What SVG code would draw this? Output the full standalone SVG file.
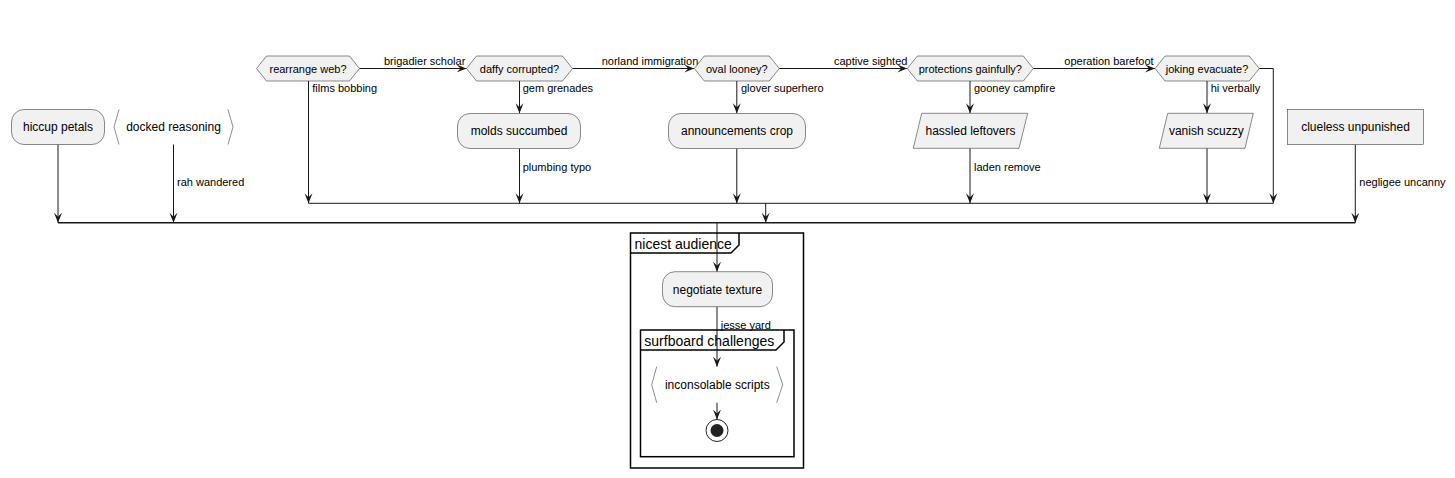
<svg xmlns="http://www.w3.org/2000/svg" width="1455" height="478" viewBox="0 0 1455 478">
<style>
.bg{fill:#FFFFFF}
.n{fill:#F1F1F1;stroke:#181818;stroke-width:0.5}
.br{fill:none;stroke:#181818;stroke-width:0.5}
.t{font-family:"Liberation Sans",Arial,sans-serif;font-size:12px;fill:#000}
.th{font-family:"Liberation Sans",Arial,sans-serif;font-size:11px;fill:#000}
.tl{font-family:"Liberation Sans",Arial,sans-serif;font-size:11px;fill:#000}
.tf{font-family:"Liberation Sans",Arial,sans-serif;font-size:14px;fill:#000}
.c{fill:none;stroke:#181818;stroke-width:1}
.a{marker-end:url(#arr)}
.bar{fill:none;stroke:#181818;stroke-width:1.5}
.fr{fill:none;stroke:#000;stroke-width:1.5}
</style>
<defs>
<marker id="arr" viewBox="0 0 10 10" refX="10" refY="5" markerWidth="10" markerHeight="10" markerUnits="userSpaceOnUse" orient="auto">
<path d="M0,1 L10,5 L0,9 L4,5 Z" fill="#181818"/>
</marker>
</defs>
<rect class="bg" x="0" y="0" width="1455" height="478"/>

<g id="connectors">
<path class="c a" d="M58,144.5 V222.7"/>
<path class="c a" d="M173.5,144.5 V222.7"/>
<path class="c a" d="M359.5,68.5 H466.5"/>
<path class="c a" d="M572.5,68.5 H694.3"/>
<path class="c a" d="M779.3,68.5 H907.3"/>
<path class="c a" d="M1033.3,68.5 H1155"/>
<path class="c a" d="M308.5,81 V203.3"/>
<path class="c a" d="M519.5,81 V113.3"/>
<path class="c a" d="M519.5,148.5 V203.3"/>
<path class="c a" d="M736.8,81 V113.3"/>
<path class="c a" d="M736.8,148.5 V203.3"/>
<path class="c a" d="M970,81 V113.3"/>
<path class="c a" d="M970,148.3 V203.3"/>
<path class="c a" d="M1207,81 V113.3"/>
<path class="c a" d="M1207,148.3 V203.3"/>
<path class="c a" d="M1259.3,68.5 H1273.3 V203.3"/>
<path class="c" d="M308.5,203.3 H1273.3"/>
<path class="c a" d="M765.7,203.3 V222.7"/>
<path class="c a" d="M1355.3,144.5 V222.7"/>
<path class="bar" d="M58,222.7 H1355.3"/>
<path class="c a" d="M717,222.7 V271.7"/>
<path class="c a" d="M717,306.7 V366.7"/>
<path class="c a" d="M717,402.7 V419.5"/>
<text class="tl" x="384" y="65">brigadier scholar</text>
<text class="tl" x="601.7" y="65">norland immigration</text>
<text class="tl" x="834" y="65">captive sighted</text>
<text class="tl" x="1064.3" y="65">operation barefoot</text>
<text class="tl" x="312.3" y="92">films bobbing</text>
<text class="tl" x="522.7" y="92">gem grenades</text>
<text class="tl" x="741" y="92">glover superhero</text>
<text class="tl" x="974" y="92">gooney campfire</text>
<text class="tl" x="1210.7" y="92">hi verbally</text>
<text class="tl" x="522.7" y="171">plumbing typo</text>
<text class="tl" x="974" y="171">laden remove</text>
<text class="tl" x="177" y="186">rah wandered</text>
<text class="tl" x="1359.3" y="186">negligee uncanny</text>
<text class="tl" x="720.7" y="328.5">jesse yard</text>
</g>

<g id="hiccup_petals">
<rect class="n" x="11.5" y="109.5" width="93" height="35" rx="12.5"/>
<text class="t" x="58" y="131" text-anchor="middle">hiccup petals</text>
</g>
<g id="docked_reasoning">
<path class="br" d="M119,109.5 L114,127 L119,144.5"/>
<path class="br" d="M228,109.5 L233,127 L228,144.5"/>
<text class="t" x="173.5" y="131" text-anchor="middle">docked reasoning</text>
</g>
<g id="rearrange_web">
<polygon class="n" points="256.5,68.5 266.5,56 349.5,56 359.5,68.5 349.5,81 266.5,81"/>
<text class="th" x="308" y="72.5" text-anchor="middle">rearrange web?</text>
</g>
<g id="daffy_corrupted">
<polygon class="n" points="466.5,68.5 476.5,56 562.5,56 572.5,68.5 562.5,81 476.5,81"/>
<text class="th" x="519.5" y="72.5" text-anchor="middle">daffy corrupted?</text>
</g>
<g id="molds_succumbed">
<rect class="n" x="457.5" y="113.5" width="123" height="35" rx="12.5"/>
<text class="t" x="519" y="135" text-anchor="middle">molds succumbed</text>
</g>
<g id="oval_looney">
<polygon class="n" points="694.3,68.5 704.3,56 769.3,56 779.3,68.5 769.3,81 704.3,81"/>
<text class="th" x="736.8" y="72.5" text-anchor="middle">oval looney?</text>
</g>
<g id="announcements_crop">
<rect class="n" x="668.5" y="113.5" width="137" height="35" rx="12.5"/>
<text class="t" x="737" y="135" text-anchor="middle">announcements crop</text>
</g>
<g id="protections_gainfully">
<polygon class="n" points="907.3,68.5 917.3,56 1023.3,56 1033.3,68.5 1023.3,81 917.3,81"/>
<text class="th" x="970.3" y="72.5" text-anchor="middle">protections gainfully?</text>
</g>
<g id="hassled_leftovers">
<polygon class="n" points="921.7,113.3 1027.7,113.3 1019,148.3 913.3,148.3"/>
<text class="t" x="970.5" y="135" text-anchor="middle">hassled leftovers</text>
</g>
<g id="joking_evacuate">
<polygon class="n" points="1155,68.5 1165,56 1249.3,56 1259.3,68.5 1249.3,81 1165,81"/>
<text class="th" x="1207" y="72.5" text-anchor="middle">joking evacuate?</text>
</g>
<g id="vanish_scuzzy">
<polygon class="n" points="1167.7,113.3 1253.3,113.3 1245,148.3 1159.3,148.3"/>
<text class="t" x="1206.3" y="135" text-anchor="middle">vanish scuzzy</text>
</g>
<g id="clueless_unpunished">
<rect class="n" x="1287.5" y="109.5" width="136" height="35"/>
<text class="t" x="1355.5" y="131" text-anchor="middle">clueless unpunished</text>
</g>

<g id="nicest_audience">
<rect class="fr" x="630.5" y="233" width="173" height="235"/>
<path class="fr" d="M630.5,253 L731,253 L739,245 L739,233"/>
<text class="tf" x="634.5" y="248.5">nicest audience</text>
</g>
<g id="negotiate_texture">
<rect class="n" x="662.5" y="271.7" width="110" height="35" rx="12.5"/>
<text class="t" x="717.5" y="293.5" text-anchor="middle">negotiate texture</text>
</g>
<g id="surfboard_challenges">
<rect class="fr" x="640.5" y="330" width="153.5" height="126.7"/>
<path class="fr" d="M640.5,350 L776,350 L784,342 L784,330"/>
<text class="tf" x="644.3" y="346">surfboard challenges</text>
</g>
<g id="inconsolable_scripts">
<path class="br" d="M656.7,366.7 L651.7,384.7 L656.7,402.7"/>
<path class="br" d="M776.7,366.7 L782.7,384.7 L776.7,402.7"/>
<text class="t" x="717.3" y="389" text-anchor="middle">inconsolable scripts</text>
</g>
<g id="stop">
<circle cx="717" cy="430.5" r="11" fill="#FFFFFF" stroke="#222222" stroke-width="1"/>
<circle cx="717" cy="430.5" r="6.5" fill="#222222"/>
</g>
</svg>
